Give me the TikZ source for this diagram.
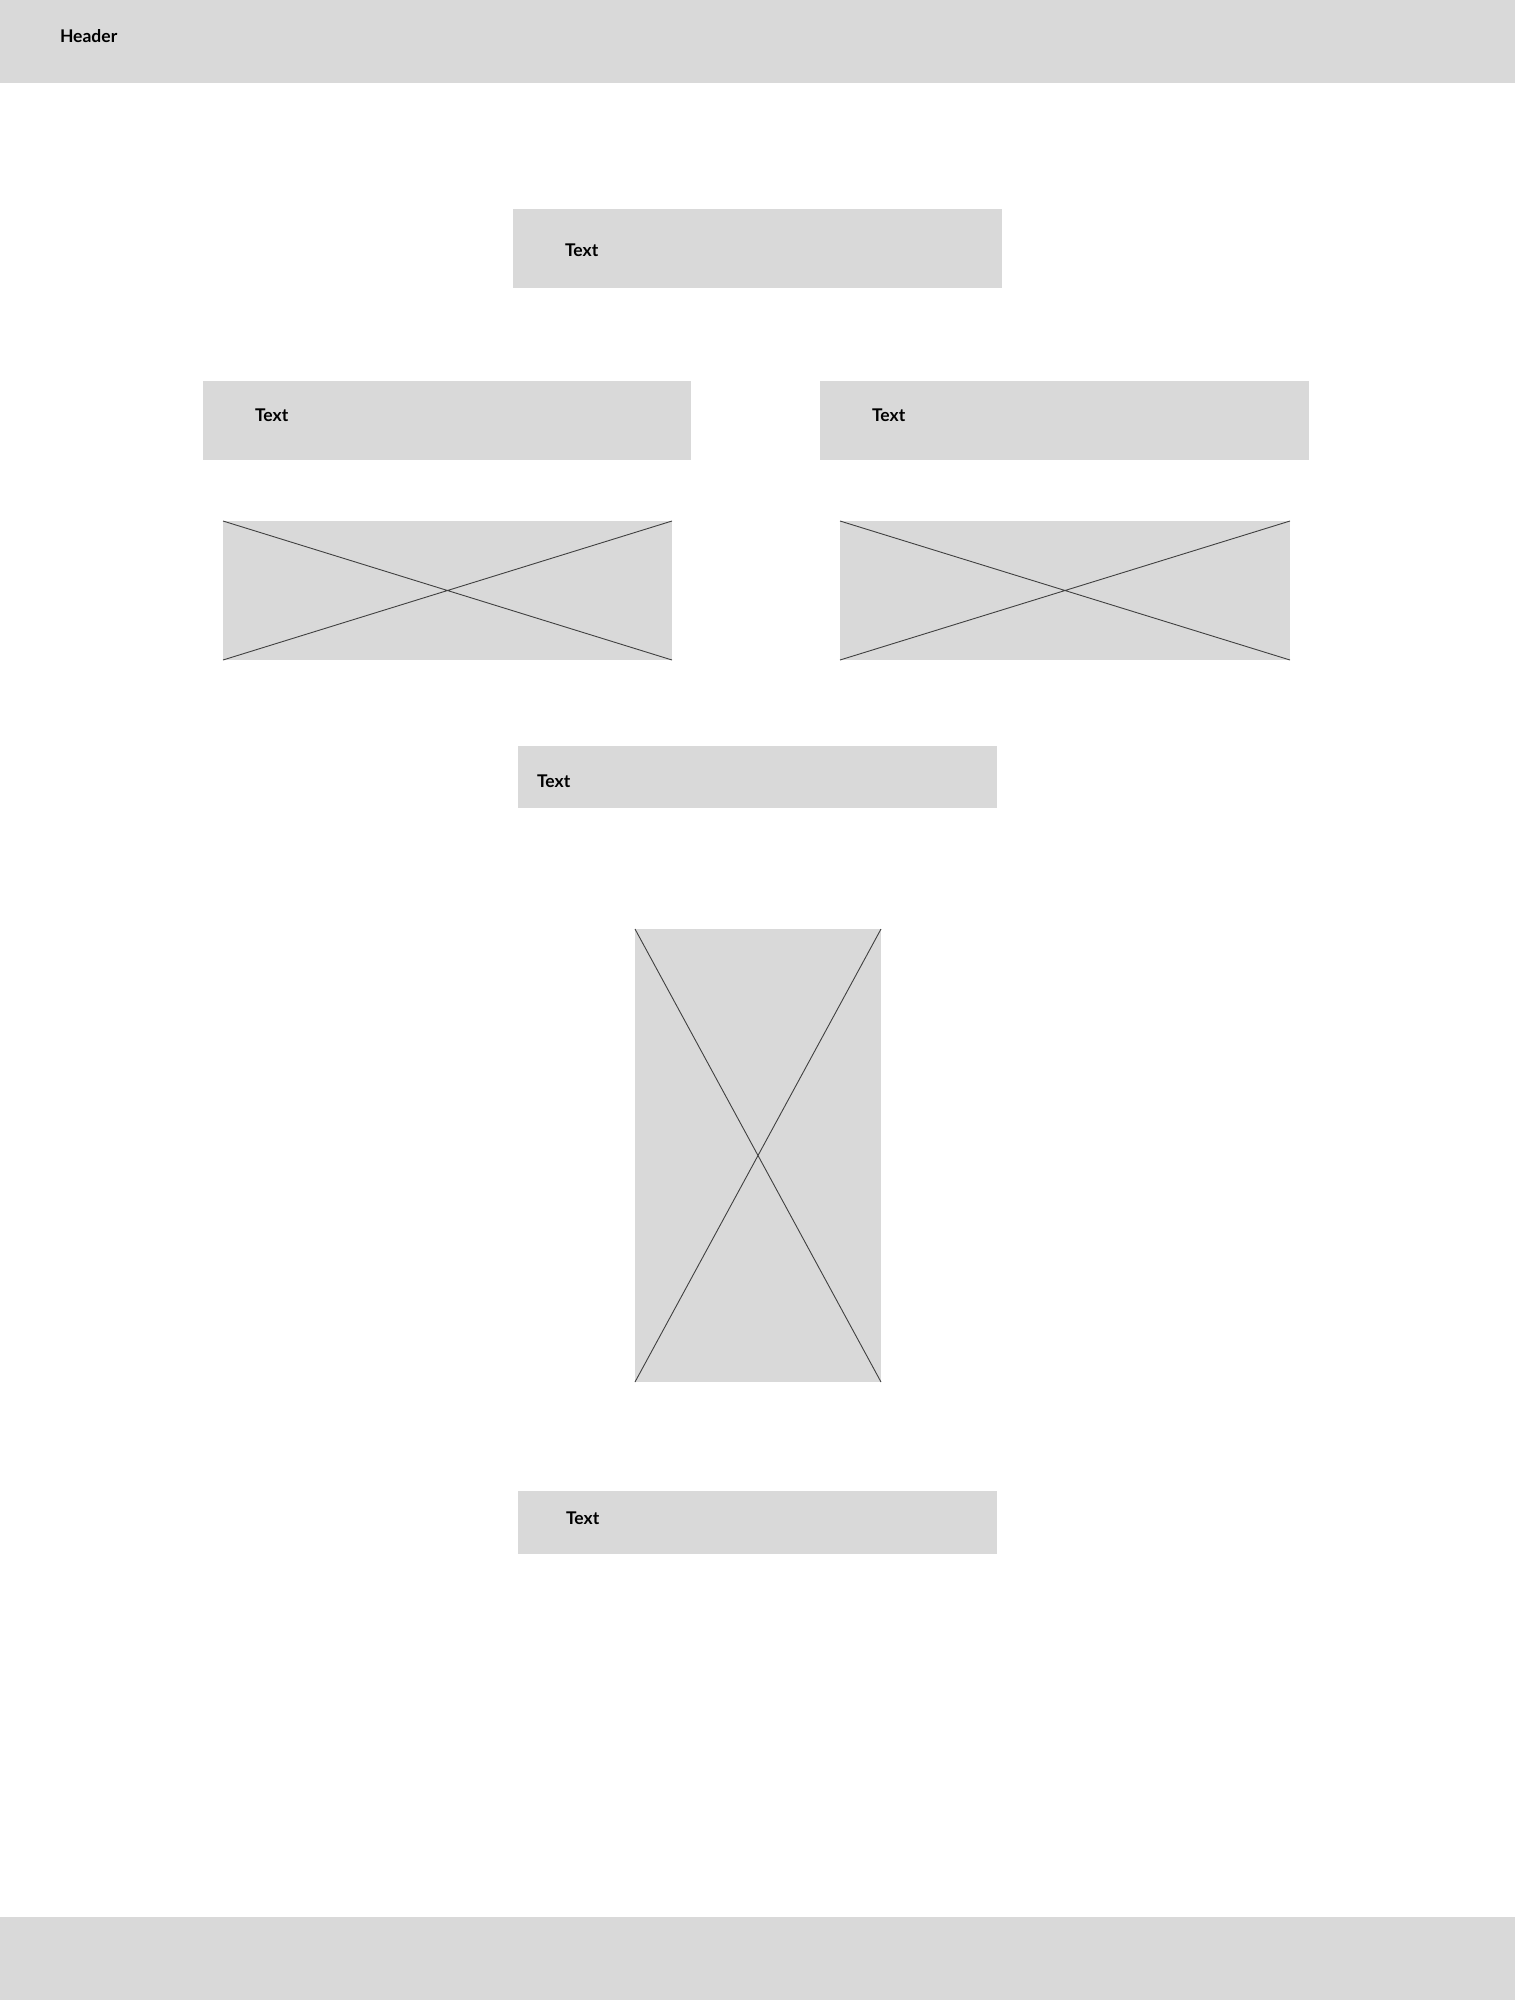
\documentclass[tikz,border=0pt]{standalone}
\usepackage{fontspec}
\setmainfont{Lato}
\definecolor{boxgray}{HTML}{D9D9D9}
\definecolor{linegray}{HTML}{404040}
\begin{document}
\begin{tikzpicture}[x=1pt,y=-1pt,
  panel/.style={fill=boxgray, draw=none, inner sep=0pt, outer sep=0pt, anchor=north west},
  lbl/.style={anchor=base west, inner sep=0pt, outer sep=0pt, font=\bfseries\fontsize{17.5}{20}\selectfont},
  crossline/.style={draw=linegray, line width=0.9pt}]
\useasboundingbox (0,0) rectangle (1515,2000);
\fill[white] (0,0) rectangle (1515,2000);
% panels
\node[panel, minimum width=1515pt, minimum height=83pt] (header) at (0,0) {};
\node[panel, minimum width=489pt, minimum height=79pt] (top) at (513,209) {};
\node[panel, minimum width=488pt, minimum height=79pt] (left) at (203,381) {};
\node[panel, minimum width=489pt, minimum height=79pt] (right) at (820,381) {};
\node[panel, minimum width=449pt, minimum height=139pt] (imgL) at (223,521) {};
\node[panel, minimum width=450pt, minimum height=139pt] (imgR) at (840,521) {};
\node[panel, minimum width=479pt, minimum height=62pt] (mid) at (518,746) {};
\node[panel, minimum width=246pt, minimum height=453pt] (tall) at (635,929) {};
\node[panel, minimum width=479pt, minimum height=63pt] (bot) at (518,1491) {};
\node[panel, minimum width=1515pt, minimum height=83pt] (footer) at (0,1917) {};
% crosses
\draw[crossline] (imgL.north west) -- (imgL.south east) (imgL.south west) -- (imgL.north east);
\draw[crossline] (imgR.north west) -- (imgR.south east) (imgR.south west) -- (imgR.north east);
\draw[crossline] (tall.north west) -- (tall.south east) (tall.south west) -- (tall.north east);
% labels
\node[lbl] (headerT) at (60,42.7) {Header};
\node[lbl] (topT) at (565,256.7) {Text};
\node[lbl] (leftT) at (255,421.7) {Text};
\node[lbl] (rightT) at (872,421.7) {Text};
\node[lbl] (midT) at (537,787) {Text};
\node[lbl] (botT) at (566,1524) {Text};
\end{tikzpicture}
\end{document}
